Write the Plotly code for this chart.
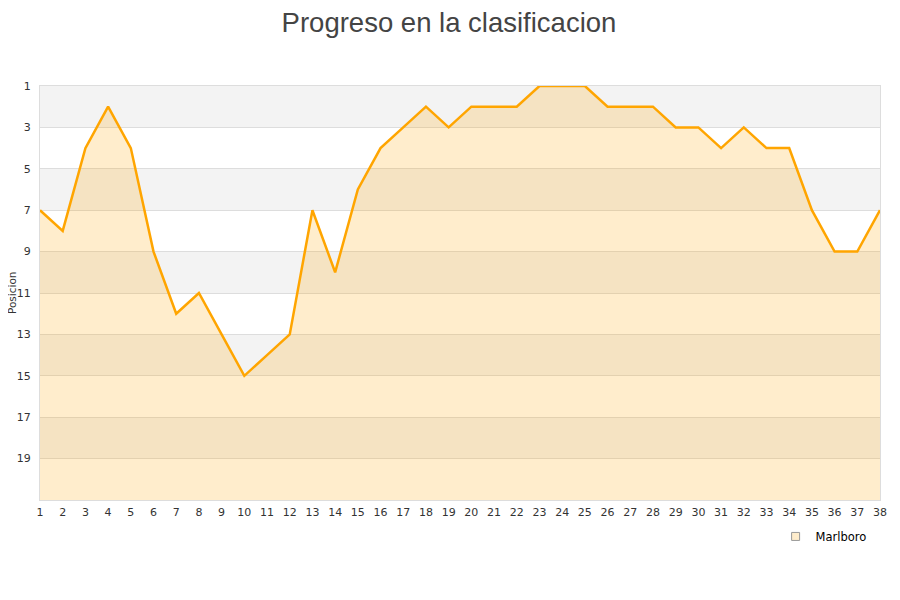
import plotly.graph_objects as go

jornadas = list(range(1, 39))
posicion = [7, 8, 4, 2, 4, 9, 12, 11, 13, 15, 14, 13, 7, 10, 6, 4, 3, 2, 3, 2,
            2, 2, 1, 1, 1, 2, 2, 2, 3, 3, 4, 3, 4, 4, 7, 9, 9, 7]
equipo = "Marlboro"
y_ticks = [1, 3, 5, 7, 9, 11, 13, 15, 17, 19]
y_min, y_max = 1, 21

fig = go.Figure()
# baseline at bottom of axis for fill
fig.add_trace(go.Scatter(x=jornadas, y=[y_max] * len(jornadas), mode="lines",
                         line=dict(width=0), showlegend=False, hoverinfo="skip"))
fig.add_trace(go.Scatter(x=jornadas, y=posicion, mode="lines", name=equipo,
                         line=dict(color="#ffa500", width=2.5),
                         fill="tonexty", fillcolor="rgba(255,165,0,0.2)",
                         showlegend=False))
fig.add_trace(go.Scatter(x=[None], y=[None], mode="markers", name=equipo,
                         marker=dict(symbol="square", size=8,
                                     color="#ffedcc",
                                     line=dict(color="#999", width=1))))

shapes = []
for lo in range(1, 21, 4):
    shapes.append(dict(type="rect", xref="paper", yref="y", x0=0, x1=1,
                       y0=lo, y1=lo + 2, fillcolor="#f3f3f3",
                       line=dict(width=0), layer="below"))

fig.update_layout(
    width=900, height=600,
    margin=dict(l=32, r=28, t=78, b=108),
    paper_bgcolor="white", plot_bgcolor="white",
    title=dict(text="Progreso en la clasificacion", x=0.49, xanchor="center",
               y=0.976, yanchor="middle",
               font=dict(family="Liberation Sans, Arial", size=27.5, color="#444")),
    shapes=shapes,
    font=dict(family="DejaVu Sans, Verdana", size=11, color="#333"),
    xaxis=dict(range=[1, 38], tickmode="array", tickvals=jornadas,
               showgrid=False, zeroline=False, ticks="", automargin=False,
               showline=True, linecolor="#ddd", mirror=True,
               ticklabelstandoff=2,
               tickfont=dict(size=11, color="#333")),
    yaxis=dict(range=[y_max, y_min], tickmode="array", tickvals=y_ticks,
               showgrid=True, gridcolor="#ddd", gridwidth=1, zeroline=False,
               showline=True, linecolor="#ddd", mirror=True, ticks="",
               automargin=False, ticklabelstandoff=6,
               ticklen=0, tickfont=dict(size=11, color="#333")),
    annotations=[dict(text="Posicion", xref="paper", yref="paper",
                      x=-0.0333, y=0.5, xanchor="center", yanchor="middle",
                      textangle=-90, showarrow=False,
                      font=dict(size=10.5, color="#333"))],
    legend=dict(orientation="h", x=0.99, xanchor="right", y=-0.053,
                yanchor="top", font=dict(size=11.5, color="#000"),
                itemwidth=30, bgcolor="rgba(0,0,0,0)"),
)

fig.write_html("out.html")
